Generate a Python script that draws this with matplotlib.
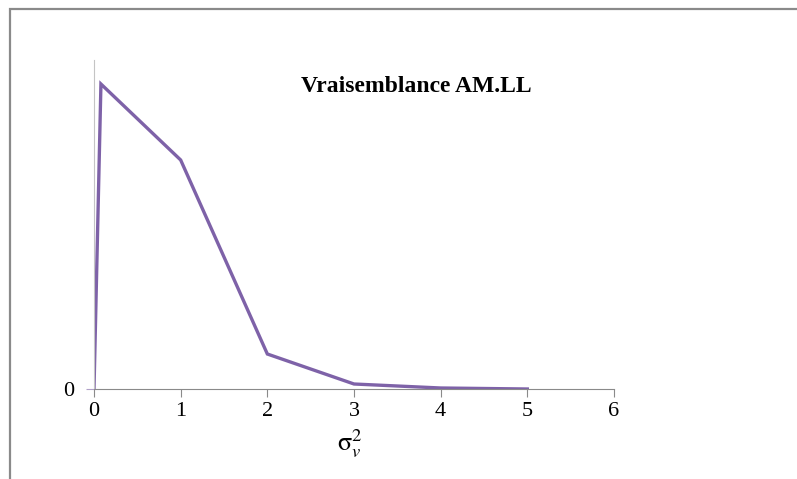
import matplotlib.pyplot as plt
from matplotlib.patches import Rectangle

# donnees (echelle arbitraire)
sigma2 = [0, 0.08, 1, 2, 3, 4, 5]
vrais = [0, 3.05, 2.29, 0.35, 0.05, 0.01, 0.0]
xticks = [0, 1, 2, 3, 4, 5, 6]

plt.rcParams['font.family'] = ['Liberation Serif', 'DejaVu Serif']
plt.rcParams['mathtext.fontset'] = 'stix'

fig = plt.figure(figsize=(7.97, 4.79), dpi=100)

# cadre autour du graphique (seulement gauche et haut visibles)
fig.patches.append(Rectangle((10 / 797, -0.2), 1.2, 1 - 9 / 479 + 0.2,
                             transform=fig.transFigure, fill=False,
                             edgecolor='#8a8a8a', linewidth=1.6))

ax = fig.add_axes([94 / 797, 1 - 389 / 479, 520 / 797, 329 / 479])
ax.plot(sigma2, vrais, color='#7e62a8', linewidth=2.4, solid_joinstyle='miter')

ax.set_xlim(0, 6)
ax.set_ylim(0, 3.29)
ax.set_xticks(xticks)
ax.set_yticks([0])
ax.tick_params(axis='x', direction='out', length=6, colors='#8a8a8a',
               labelcolor='black', labelsize=16, pad=3)
ax.tick_params(axis='y', direction='out', length=6, colors='#b0a0c8',
               labelcolor='black', labelsize=16, pad=8)

for s in ['top', 'right']:
    ax.spines[s].set_visible(False)
ax.spines['bottom'].set_color('#8a8a8a')
ax.spines['left'].set_color('#c4c4c4')

ax.set_xlabel(r'$\mathrm{\sigma}_{v}^{2}$', fontsize=19, labelpad=2)
ax.xaxis.set_label_coords(0.492, -0.115)
ax.text(0.62, 0.92, 'Vraisemblance AM.LL', transform=ax.transAxes,
        ha='center', va='center', fontsize=17, fontweight='bold')

fig.savefig('out.png', dpi=100)
